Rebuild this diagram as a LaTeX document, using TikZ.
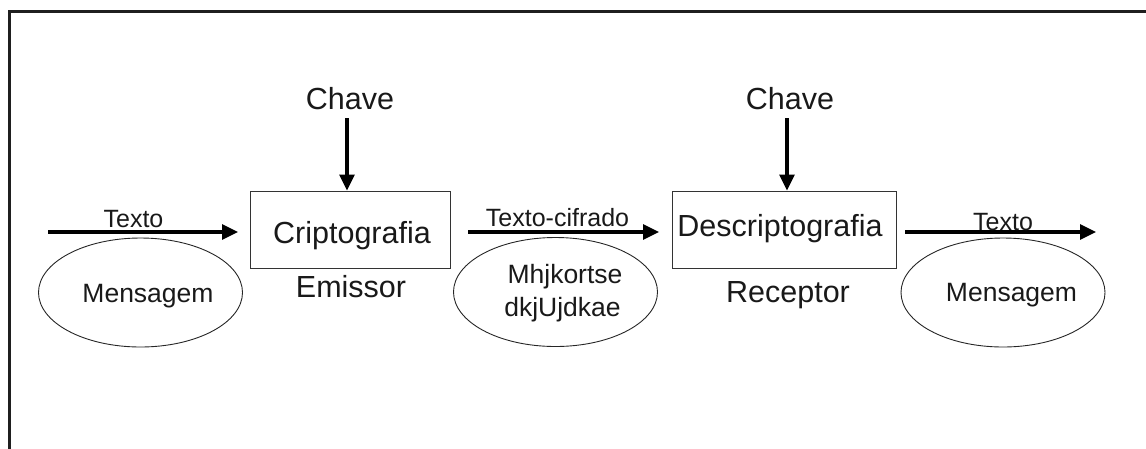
\documentclass[tikz,border=0pt]{standalone}
\usepackage{fontspec}
\setmainfont{Liberation Sans}
\usetikzlibrary{arrows.meta,shapes.geometric}
\begin{document}
\begin{tikzpicture}[x=1pt,y=-1pt,
  arr/.style={line width=3.2pt, -{Triangle[length=16pt,width=15pt]}},
  box/.style={draw=black!80, line width=1pt, inner sep=0pt},
  ell/.style={draw=black!85, line width=0.9pt, ellipse, inner sep=0pt, minimum width=204pt, minimum height=109pt},
  big/.style={anchor=base, inner sep=0pt, font=\fontsize{30.5}{36}\selectfont, text=black!90},
  mid/.style={anchor=base, inner sep=0pt, font=\fontsize{26.5}{32}\selectfont, text=black!90},
  sml/.style={anchor=base, inner sep=0pt, font=\fontsize{25}{30}\selectfont, text=black!90}]
\useasboundingbox (0,0) rectangle (1146,448);
\clip (0,0) rectangle (1146,448);
\draw[line width=3pt, black!88] (9,470) -- (9,11) -- (1170,11);

% boxes
\node[box, minimum width=200pt, minimum height=77pt] (crip) at (350,229.5) {};
\node[box, minimum width=224pt, minimum height=77pt] (desc) at (784,229.5) {};
\node[big] (criptxt) at (352,243) {Criptografia};
\node[big] (desctxt) at (780,236) {Descriptografia};
\node[big] (emissor) at (351,297) {Emissor};
\node[big] (receptor) at (788,302) {Receptor};

% keys
\node[big] (chave1) at (350,109) {Chave};
\node[big] (chave2) at (790,109) {Chave};
\coordinate (c1) at (347,118);
\coordinate (c2) at (787,118);
\draw[arr] (c1) -- (c1 |- crip.north);
\draw[arr] (c2) -- (c2 |- desc.north);

% horizontal arrows
\coordinate (a1s) at (48,232);
\coordinate (a1e) at (238,232);
\coordinate (a2s) at (468,232);
\coordinate (a2e) at (659,232);
\coordinate (a3s) at (905,232);
\coordinate (a3e) at (1096,232);
\draw[arr] (a1s) -- (a1e);
\draw[arr] (a2s) -- (a2e);
\draw[arr] (a3s) -- (a3e);
\node[sml] (t1) at (133.5,227) {Texto};
\node[sml] (t2) at (557.5,226) {Texto-cifrado};
\node[sml] (t3) at (1003,230) {Texto};

% ellipses
\node[ell] (e1) at (140.5,292.5) {};
\node[ell] (e2) at (555.5,292) {};
\node[ell] (e3) at (1003,292.5) {};
\node[mid] (m1) at (148,302) {Mensagem};
\node[mid] (m2a) at (565,283) {Mhjkortse};
\node[mid] (m2b) at (562.5,316) {dkjUjdkae};
\node[mid] (m3) at (1011.5,301) {Mensagem};
\end{tikzpicture}
\end{document}
